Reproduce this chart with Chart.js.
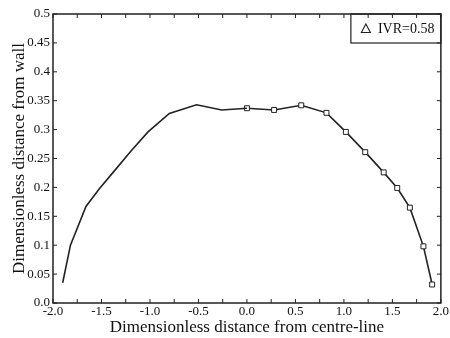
<!DOCTYPE html>
<html lang="en">

<head>
    <meta charset="UTF-8">
    <title>IVR=0.58 profile</title>
    <script src="https://cdn.jsdelivr.net/npm/chart.js@4.4.0/dist/chart.umd.min.js"></script>
    <style>
        html, body { margin: 0; padding: 0; background: #fff; }
        .graph-container { width: 450px; height: 338px; }
    </style>
</head>

<body>
    <div class="graph-container">
        <canvas id="myChart"></canvas>
    </div>

    <script>
        // left half (line only, no markers)
        var leftX = [-1.90, -1.82, -1.66, -1.52, -1.38, -1.20, -1.02, -0.80, -0.52, -0.26, 0.0];
        var leftY = [0.035, 0.100, 0.167, 0.198, 0.226, 0.262, 0.296, 0.328, 0.343, 0.334, 0.337];

        // right half (square markers)
        var rightX = [0.0, 0.28, 0.56, 0.82, 1.02, 1.22, 1.41, 1.55, 1.68, 1.82, 1.91];
        var rightY = [0.337, 0.334, 0.342, 0.329, 0.296, 0.261, 0.226, 0.199, 0.165, 0.098, 0.032];

        var legendText = 'IVR=0.58';
        var xTitle = 'Dimensionless distance from centre-line';
        var yTitle = 'Dimensionless distance from wall';

        var inkColor = '#222';
        var serif = "'Liberation Serif', 'DejaVu Serif', serif";

        function toPoints(xs, ys) {
            return xs.map(function (x, i) { return { x: x, y: ys[i] }; });
        }

        // frame, inward ticks and the boxed legend
        var framePlugin = {
            id: 'frame',
            afterDraw: function (chart) {
                var c = chart.ctx;
                var a = chart.chartArea;
                var xs = chart.scales.x;
                var ys = chart.scales.y;
                c.save();
                c.strokeStyle = inkColor;
                c.lineWidth = 1.5;
                c.strokeRect(a.left, a.top, a.right - a.left, a.bottom - a.top);

                c.lineWidth = 1;
                c.beginPath();
                for (var v = -2.0; v <= 2.0001; v += 0.25) {
                    var px = xs.getPixelForValue(v);
                    c.moveTo(px, a.bottom); c.lineTo(px, a.bottom - 4);
                    c.moveTo(px, a.top); c.lineTo(px, a.top + 4);
                }
                ys.ticks.forEach(function (t) {
                    var py = ys.getPixelForValue(t.value);
                    c.moveTo(a.left, py); c.lineTo(a.left + 4, py);
                    c.moveTo(a.right, py); c.lineTo(a.right - 4, py);
                });
                c.stroke();

                // legend box in the top right corner
                var bw = 90, bh = 29;
                var bx = a.right - bw, by = a.top;
                c.lineWidth = 1.2;
                c.strokeRect(bx, by, bw, bh);
                var cy = by + bh / 2;
                var tx = bx + 15;
                c.beginPath();
                c.moveTo(tx - 4.5, cy + 4);
                c.lineTo(tx + 4.5, cy + 4);
                c.lineTo(tx, cy - 4.5);
                c.closePath();
                c.lineWidth = 1.1;
                c.stroke();
                c.fillStyle = '#111';
                c.font = '14px ' + serif;
                c.textBaseline = 'middle';
                c.textAlign = 'left';
                c.fillText(legendText, bx + 27, cy + 1);
                c.restore();
            }
        };

        var ctx = document.getElementById('myChart').getContext('2d');

        var chart = new Chart(ctx, {
            type: 'scatter',
            data: {
                datasets: [{
                    label: 'left',
                    data: toPoints(leftX, leftY),
                    showLine: true,
                    borderColor: inkColor,
                    borderWidth: 1.6,
                    pointRadius: 0,
                    tension: 0
                }, {
                    label: legendText,
                    data: toPoints(rightX, rightY),
                    showLine: true,
                    borderColor: inkColor,
                    borderWidth: 1.6,
                    pointStyle: 'rect',
                    pointRadius: 3.5,
                    pointBorderWidth: 1,
                    pointBorderColor: inkColor,
                    pointBackgroundColor: '#fff',
                    tension: 0
                }]
            },
            options: {
                responsive: true,
                maintainAspectRatio: false,
                animation: false,
                layout: { padding: { left: 0, right: 8, top: 14, bottom: 0 } },
                plugins: {
                    tooltip: { enabled: false },
                    legend: { display: false }
                },
                scales: {
                    x: {
                        type: 'linear',
                        min: -2.0,
                        max: 2.0,
                        afterFit: function (s) { s.height = 35; },
                        grid: { display: false, drawTicks: false },
                        border: { display: false },
                        ticks: {
                            stepSize: 0.5,
                            padding: 1,
                            color: '#111',
                            font: { family: serif, size: 13 },
                            callback: function (v) { return Number(v).toFixed(1); }
                        },
                        title: {
                            display: true,
                            text: xTitle,
                            color: '#111',
                            font: { family: serif, size: 17 },
                            padding: { top: 0, bottom: 0 }
                        }
                    },
                    y: {
                        type: 'linear',
                        min: 0,
                        max: 0.5,
                        afterFit: function (s) { s.width = 53; },
                        grid: { display: false, drawTicks: false },
                        border: { display: false },
                        ticks: {
                            stepSize: 0.05,
                            padding: 3,
                            color: '#111',
                            font: { family: serif, size: 13 },
                            callback: function (v) {
                                var r = Math.round(v * 100) / 100;
                                return r === 0 ? '0.0' : String(r);
                            }
                        },
                        title: {
                            display: true,
                            text: yTitle,
                            color: '#111',
                            font: { family: serif, size: 17 },
                            padding: { top: 9, bottom: 0 }
                        }
                    }
                }
            },
            plugins: [framePlugin]
        });
    </script>
</body>

</html>
